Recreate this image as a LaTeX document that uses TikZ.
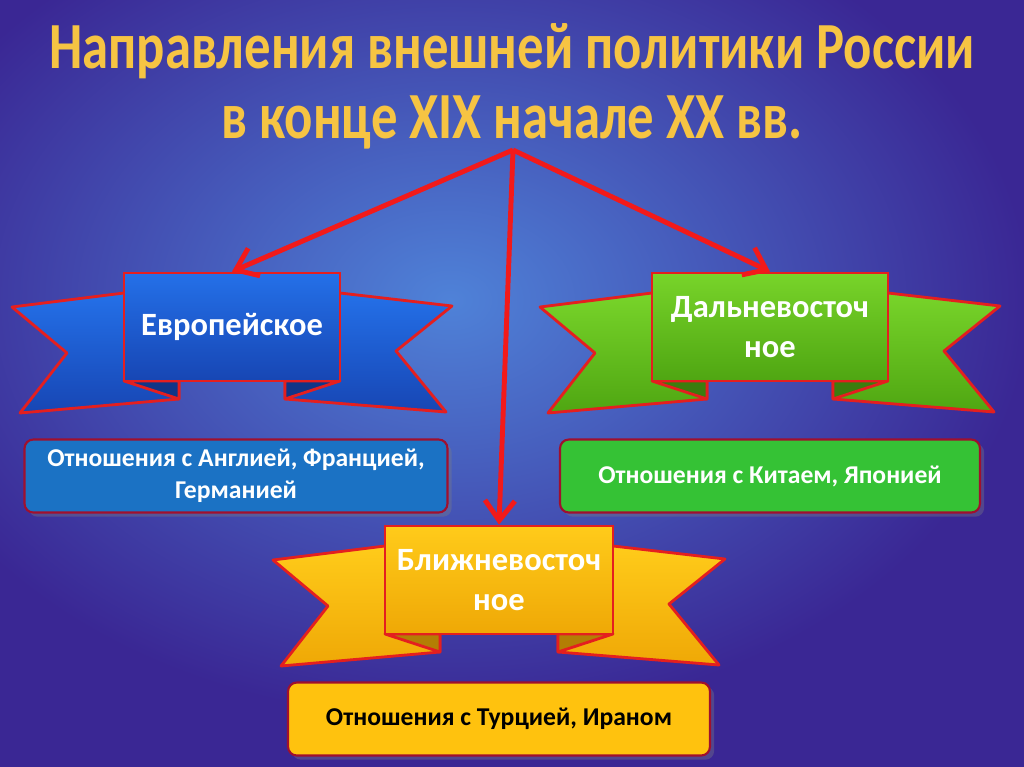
\documentclass[tikz,border=0pt]{standalone}
\usepackage{fontspec}
\setmainfont{Carlito}
\usetikzlibrary{arrows.meta,shadows}

\definecolor{bgdark}{HTML}{3A2794}
\definecolor{bgmid}{HTML}{4F82D8}
\definecolor{titlegold}{HTML}{F6C443}
\definecolor{arrred}{HTML}{F21A1A}
\definecolor{rimred}{HTML}{E41F1F}
\definecolor{boxrim}{HTML}{A0102E}
\definecolor{blueA}{HTML}{2470E8}
\definecolor{blueB}{HTML}{1746B4}
\definecolor{greenA}{HTML}{78D42A}
\definecolor{greenB}{HTML}{4FA612}
\definecolor{yelA}{HTML}{FFCB1A}
\definecolor{yelB}{HTML}{EFA806}
\definecolor{boxblue}{HTML}{1B72C4}
\definecolor{boxgreen}{HTML}{35C235}
\definecolor{boxyel}{HTML}{FFC20E}

\tikzset{
  wing/.style={draw=rimred, line width=1.6pt, line join=round},
  ribbox/.style={draw=rimred, line width=1.6pt, minimum height=2.16cm,
    text=white, font=\fontsize{18.5}{23}\selectfont\bfseries, align=center},
  infobox/.style={draw=boxrim, line width=1.2pt, rounded corners=5pt,
    minimum height=1.46cm, font=\fontsize{14.6}{18}\selectfont\bfseries,
    align=center, drop shadow={opacity=0.35}},
  arr/.style={draw=arrred, line width=2.8pt,
    -{Straight Barb[length=4mm,width=6mm]}}
}

\begin{document}
\begin{tikzpicture}[x=0.02cm, y=-0.02cm]
    \useasboundingbox (0,0) rectangle (1024,767);
    % background
    \fill[bgdark] (0,0) rectangle (1024,767);
    \shade[inner color=bgmid, outer color=bgdark] (450,300) ellipse (580 and 420);

    % title
    \node[text=titlegold, font=\fontsize{30}{40}\selectfont\bfseries, align=center] (title) at (512,86)
      {\scalebox{1}[1.25]{Направления внешней политики России}\\
       \scalebox{1}[1.25]{в конце XIX начале XX вв.}};

    % ribbon wings
    \foreach \cx/\cy/\hw/\ca/\cb in {232/327/108/blueA/blueB, 770/327/118/greenA/greenB, 499/580/114/yelA/yelB} {
      \begin{scope}[shift={(\cx,\cy)}]
        \draw[wing, top color=\ca, bottom color=\cb] (-\hw,-34) -- (-\hw-112,-20) -- (-\hw-57,26)
          -- (-\hw-104,86) -- (-\hw+55,72) -- (-\hw+55,54) -- cycle;
        \draw[wing, top color=\ca, bottom color=\cb] (\hw,-34) -- (\hw+112,-21) -- (\hw+56,24)
          -- (\hw+106,85) -- (\hw-55,72) -- (\hw-55,54) -- cycle;
        \draw[wing, fill=\cb!75!black] (-\hw,54) -- (-\hw+55,72) -- (-\hw+55,54) -- cycle;
        \draw[wing, fill=\cb!75!black] (\hw,54) -- (\hw-55,72) -- (\hw-55,54) -- cycle;
      \end{scope}
    }

    % ribbon centres
    \node[ribbox, top color=blueA, bottom color=blueB, minimum width=4.32cm] (evr) at (232,327) {Европейское};
    \node[ribbox, top color=greenA, bottom color=greenB, minimum width=4.72cm] (far) at (770,327) {Дальневосточ\\ное};
    \node[ribbox, top color=yelA, bottom color=yelB, minimum width=4.56cm] (near) at (499,580) {Ближневосточ\\ное};

    % relations
    \node[infobox, fill=boxblue, text=white, minimum width=8.46cm] (evrbox) at (236,476)
      {Отношения с Англией, Францией,\\Германией};
    \node[infobox, fill=boxgreen, text=white, minimum width=8.4cm] (farbox) at (770,476)
      {Отношения с Китаем, Японией};
    \node[infobox, fill=boxyel, text=black, minimum width=8.44cm] (nearbox) at (499,719)
      {Отношения с Турцией, Ираном};

    % arrows
    \coordinate (top) at (513,150);
    \draw[arr] (top) -- (evr.north);
    \draw[arr] (top) -- (far.north);
    \draw[arr] (top) -- (near.north);
  \end{tikzpicture}
\end{document}
